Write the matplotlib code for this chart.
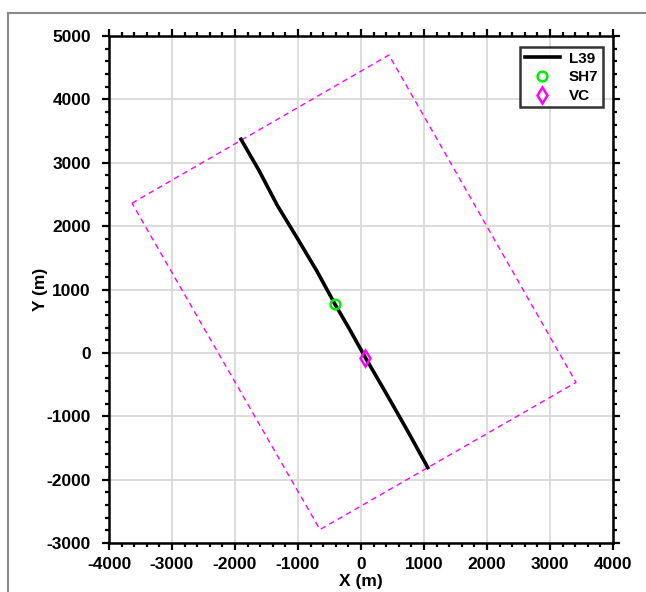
import matplotlib
matplotlib.use("Agg")
import matplotlib.pyplot as plt
from matplotlib.lines import Line2D
import numpy as np

plt.rcParams['font.family'] = ['Liberation Sans', 'DejaVu Sans']
plt.rcParams['font.weight'] = 'bold'
plt.rcParams['axes.unicode_minus'] = False

# Survey line L39 (easting / northing, m)
l39_x = [-1905, -1620, -1330, -1000, -700, -420, -200, 70, 400, 750, 1060]
l39_y = [3370, 2880, 2330, 1790, 1290, 780, 405, -75, -640, -1250, -1810]

# Station SH7 and volcanic centre VC
sh7_x, sh7_y = [-415], [775]
vc_x, vc_y = [70], [-80]

# Model domain outline (rotated rectangle corners)
box_x = [-3635, 444, 3413, -651, -3635]
box_y = [2362, 4700, -466, -2788, 2362]

xticks = [-4000, -3000, -2000, -1000, 0, 1000, 2000, 3000, 4000]
yticks = [-3000, -2000, -1000, 0, 1000, 2000, 3000, 4000, 5000]

fig = plt.figure(figsize=(6.46, 5.92), dpi=100)
ax = fig.add_axes([109 / 646, 1 - 543 / 592, 504 / 646, 507 / 592])

# outer frame of the figure panel
fig.add_artist(Line2D([8 / 646, 1.0], [1 - 13 / 592, 1 - 13 / 592],
                      transform=fig.transFigure, color='#8a8a8a', lw=1.5))
fig.add_artist(Line2D([8 / 646, 8 / 646], [0.0, 1 - 13 / 592],
                      transform=fig.transFigure, color='#8a8a8a', lw=1.5))

ax.plot(box_x, box_y, color='#ff00ff', lw=1.0, ls=(0, (4, 3)))
ax.plot(l39_x, l39_y, color='black', lw=2.6, label='L39', zorder=3)
ax.plot(sh7_x, sh7_y, ls='none', marker='o', ms=7, mfc='none',
        mec='#00ee00', mew=1.8, label='SH7', zorder=4)
ax.plot(vc_x, vc_y, ls='none', marker='d', ms=8, mfc='none',
        mec='#ff00ff', mew=1.8, label='VC', zorder=4)

ax.set_xlim(-4000, 4000)
ax.set_ylim(-3000, 5000)
ax.set_xticks(xticks)
ax.set_yticks(yticks)
ax.set_xticks(np.arange(-4000, 4001, 200), minor=True)
ax.set_yticks(np.arange(-3000, 5001, 200), minor=True)
ax.grid(True, which='major', color='#d9d9d9', lw=1.3)
ax.set_axisbelow(True)

ax.tick_params(which='both', direction='out', top=True, right=True,
               labelsize=12.5, width=1.6, colors='black')
ax.tick_params(which='major', length=5)
ax.tick_params(which='minor', length=3)
ax.tick_params(axis='y', which='major', pad=8)
ax.tick_params(axis='x', which='major', pad=5)
for lab in ax.get_xticklabels() + ax.get_yticklabels():
    lab.set_fontweight('bold')
for sp in ax.spines.values():
    sp.set_linewidth(1.8)

ax.set_xlabel('X (m)', fontsize=12.5, fontweight='bold', labelpad=1.5)
ax.set_ylabel('Y (m)', fontsize=12.5, fontweight='bold', labelpad=-1)

leg = ax.legend(loc='upper right', fontsize=11, frameon=True, fancybox=False,
                borderpad=0.3, handlelength=2.3, labelspacing=0.3,
                handletextpad=0.6, borderaxespad=0,
                bbox_to_anchor=(0.980, 0.978))
leg.get_frame().set_edgecolor('black')
leg.get_frame().set_linewidth(1.8)
for t in leg.get_texts():
    t.set_fontweight('bold')

fig.savefig('out.png', dpi=100)
